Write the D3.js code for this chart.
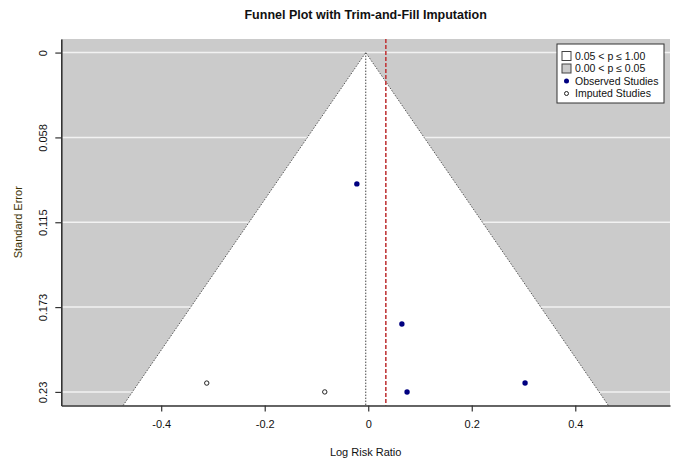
<!DOCTYPE html>
<html>
<head>
<meta charset="utf-8">
<script src="https://cdn.jsdelivr.net/npm/d3@7"></script>
<style>
body{margin:0;background:#fff;}
text{font-family:"Liberation Sans",Arial,sans-serif;fill:#111;}
</style>
</head>
<body>
<svg id="chart" width="673" height="459"></svg>
<script>
// values
var observedYi = [-0.022, 0.065, 0.075, 0.303];
var observedSe = [0.089, 0.184, 0.230, 0.224];
var imputedYi = [-0.312, -0.084];
var imputedSe = [0.224, 0.230];
var funnelCenter = -0.0048;
var estimate = 0.034;
var xTicks = [-0.4, -0.2, 0, 0.2, 0.4];
var xTickLabels = ["-0.4", "-0.2", "0", "0.2", "0.4"];
var yTicks = [0, 0.0575, 0.115, 0.1725, 0.23];
var yTickLabels = ["0", "0.058", "0.115", "0.173", "0.23"];
var legendLabels = ["0.05 < p \u2264 1.00", "0.00 < p \u2264 0.05", "Observed Studies", "Imputed Studies"];

var pLeft = 61.3, pRight = 670, pTop = 39, pBottom = 405.5;
var svg = d3.select("#chart");

var x = d3.scaleLinear().domain([-0.593, 0.583]).range([pLeft, pRight]);
var y = d3.scaleLinear().domain([-0.0092, 0.2392]).range([pTop, pBottom]);
var seMax = y.domain()[1];

// grey background
svg.append("rect").attr("x", pLeft).attr("y", pTop).attr("width", pRight - pLeft).attr("height", pBottom - pTop).attr("fill", "#cbcbcb");

// grid lines
svg.selectAll("line.grid").data(yTicks).enter().append("line")
	.attr("class", "grid")
	.attr("x1", pLeft).attr("x2", pRight)
	.attr("y1", function(d){return y(d);}).attr("y2", function(d){return y(d);})
	.attr("stroke", "#f2f2f2").attr("stroke-width", 1.5);

// funnel
var funnel = [[funnelCenter - 1.96 * seMax, seMax], [funnelCenter, 0], [funnelCenter + 1.96 * seMax, seMax]];
svg.append("polygon")
	.attr("points", funnel.map(function(p){return x(p[0]) + "," + y(p[1]);}).join(" "))
	.attr("fill", "#fff");
svg.append("path")
	.attr("d", d3.line().x(function(p){return x(p[0]);}).y(function(p){return y(p[1]);})(funnel))
	.attr("fill", "none").attr("stroke", "#555").attr("stroke-width", 1).attr("stroke-dasharray", "1.5,1.5");

// reference line (dotted) and estimate (red dashed)
svg.append("line")
	.attr("x1", x(funnelCenter)).attr("x2", x(funnelCenter))
	.attr("y1", y(0)).attr("y2", pBottom)
	.attr("stroke", "#444").attr("stroke-width", 1).attr("stroke-dasharray", "1.5,1.5");
svg.append("line")
	.attr("x1", x(estimate)).attr("x2", x(estimate))
	.attr("y1", pTop).attr("y2", pBottom)
	.attr("stroke", "#c0393b").attr("stroke-width", 1.6).attr("stroke-dasharray", "4,2");

// points
svg.selectAll("circle.obs").data(observedYi).enter().append("circle")
	.attr("class", "obs")
	.attr("cx", function(d){return x(d);})
	.attr("cy", function(d, i){return y(observedSe[i]);})
	.attr("r", 2.7).attr("fill", "#000080");
svg.selectAll("circle.imp").data(imputedYi).enter().append("circle")
	.attr("class", "imp")
	.attr("cx", function(d){return x(d);})
	.attr("cy", function(d, i){return y(imputedSe[i]);})
	.attr("r", 2.2).attr("fill", "#fff").attr("stroke", "#222").attr("stroke-width", 1);

// axes
var xAxis = svg.append("g").attr("transform", "translate(0," + pBottom + ")")
	.call(d3.axisBottom(x).tickValues(xTicks).tickSize(6).tickSizeOuter(0).tickPadding(9)
		.tickFormat(function(d, i){return xTickLabels[i];}));
var yAxis = svg.append("g").attr("transform", "translate(" + pLeft + ",0)")
	.call(d3.axisLeft(y).tickValues(yTicks).tickSize(6).tickSizeOuter(0)
		.tickFormat(function(d, i){return yTickLabels[i];}));
svg.selectAll(".domain").attr("stroke", "#333").attr("stroke-width", 1.6);
svg.selectAll(".tick line").attr("stroke", "#333").attr("stroke-width", 1.2);
svg.selectAll(".tick text").attr("font-size", 11).attr("font-family", "Liberation Sans, Arial, sans-serif").attr("fill", "#111");
yAxis.selectAll(".tick text")
	.attr("x", null).attr("dy", null)
	.attr("text-anchor", "middle")
	.attr("transform", "translate(-14,0) rotate(-90)");

// titles
svg.append("text").attr("x", (pLeft + pRight) / 2).attr("y", 19)
	.attr("text-anchor", "middle").attr("font-size", 12.5).attr("font-weight", "bold")
	.text("Funnel Plot with Trim-and-Fill Imputation");
svg.append("text").attr("x", (pLeft + pRight) / 2).attr("y", 456)
	.attr("text-anchor", "middle").attr("font-size", 11)
	.text("Log Risk Ratio");
svg.append("text").attr("transform", "translate(22," + ((pTop + pBottom) / 2) + ") rotate(-90)")
	.attr("text-anchor", "middle").attr("font-size", 11).style("fill", "#3a3000")
	.text("Standard Error");

// legend
var lg = svg.append("g").attr("transform", "translate(557,44)");
lg.append("rect").attr("width", 107).attr("height", 59).attr("fill", "#fff").attr("stroke", "#333").attr("stroke-width", 1);
var row = lg.selectAll("g").data(legendLabels).enter().append("g")
	.attr("transform", function(d, i){return "translate(0," + (12 + i * 12.5) + ")";});
row.filter(function(d, i){return i < 2;}).append("rect")
	.attr("x", 5).attr("y", -4.5).attr("width", 9).attr("height", 9)
	.attr("fill", function(d, i){return i == 0 ? "#fff" : "#cbcbcb";})
	.attr("stroke", "#444").attr("stroke-width", 1);
row.filter(function(d, i){return i == 2;}).append("circle")
	.attr("cx", 9.5).attr("r", 2.5).attr("fill", "#000080");
row.filter(function(d, i){return i == 3;}).append("circle")
	.attr("cx", 9.5).attr("r", 2).attr("fill", "#fff").attr("stroke", "#222");
row.append("text").attr("x", 18).attr("dy", "0.35em").attr("font-size", 10.5).text(function(d){return d;});
</script>
</body>
</html>
